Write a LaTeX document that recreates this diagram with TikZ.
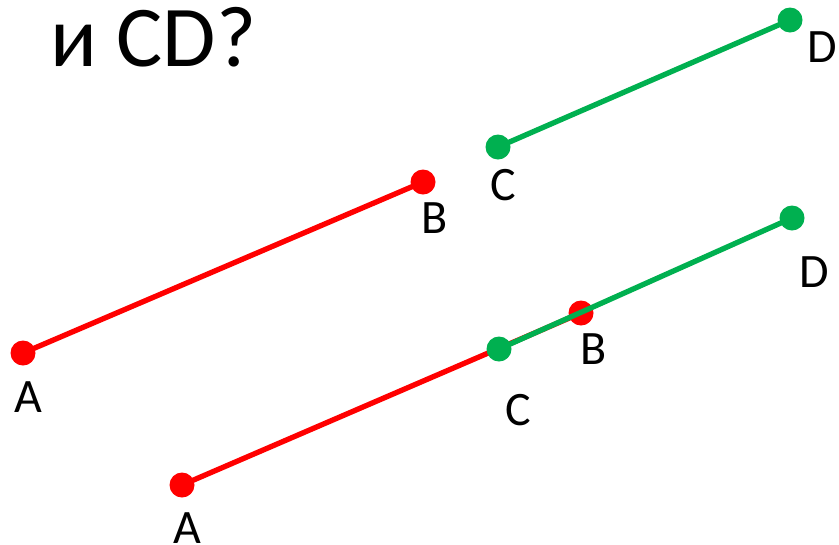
\documentclass[tikz,border=0pt]{standalone}
\usepackage{fontspec}
\setmainfont{Carlito}
\usetikzlibrary{calc}

\definecolor{segred}{RGB}{255,0,0}
\definecolor{seggreen}{RGB}{0,176,80}

\tikzset{
  redseg/.style = {draw = segred, line width = 4pt},
  greenseg/.style = {draw = seggreen, line width = 4pt},
  reddot/.style = {fill = segred},
  greendot/.style = {fill = seggreen},
  ptlabel/.style = {font = \fontsize{36}{42}\selectfont, inner sep = 0pt}
}

\begin{document}
\begin{tikzpicture}[x = 0.75pt, y = -0.75pt]
                \useasboundingbox (0,0) rectangle (839,544);
                % title
                \node[anchor = base west, inner sep = 0pt, font = \fontsize{65}{74}\selectfont] (title) at (50,66) {и CD?};
                % upper pair
                \coordinate (A1) at (23,353);
                \coordinate (B1) at (423,182);
                \coordinate (C1) at (498,147);
                \coordinate (D1) at (790,20);
                \path[redseg] (A1) to (B1);
                \path[greenseg] (C1) to (D1);
                \path[reddot] (A1) circle[radius = 12.5];
                \path[reddot] (B1) circle[radius = 12.5];
                \path[greendot] (C1) circle[radius = 12.5];
                \path[greendot] (D1) circle[radius = 12.5];
                \node[ptlabel] (lA1) at (28,397) {A};
                \node[ptlabel] (lB1) at (435,218) {B};
                \node[ptlabel] (lC1) at (503,185) {C};
                \node[ptlabel] (lD1) at (822,47) {D};
                % lower pair, overlapping
                \coordinate (A2) at (182,485);
                \coordinate (B2) at (581,313);
                \coordinate (C2) at (499,349);
                \coordinate (D2) at (792,218);
                \path[redseg] (A2) to (B2);
                \path[reddot] (A2) circle[radius = 12.5];
                \path[reddot] (B2) circle[radius = 12.5];
                \path[greenseg] (C2) to (D2);
                \path[greendot] (C2) circle[radius = 12.5];
                \path[greendot] (D2) circle[radius = 12.5];
                \node[ptlabel] (lA2) at (187,528) {A};
                \node[ptlabel] (lB2) at (594,349) {B};
                \node[ptlabel] (lC2) at (518,410) {C};
                \node[ptlabel] (lD2) at (814,272) {D};
            \end{tikzpicture}
\end{document}
